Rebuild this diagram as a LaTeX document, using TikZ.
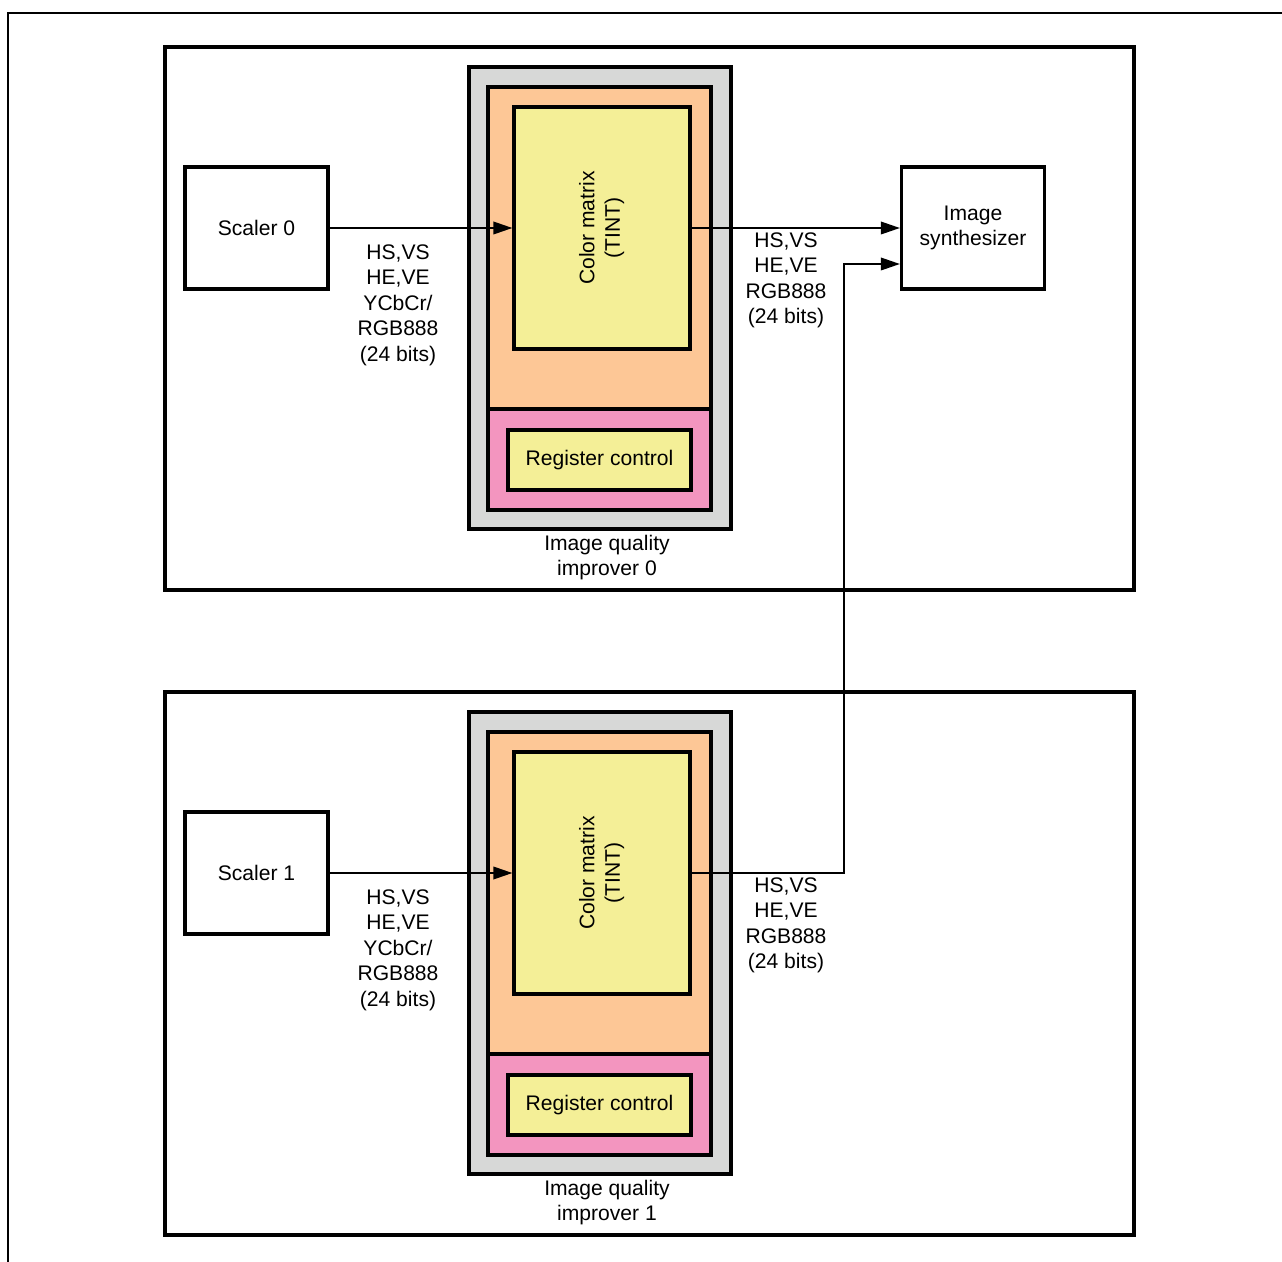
\documentclass[tikz,border=0pt]{standalone}
\usepackage{fontspec}
\setmainfont{Liberation Sans}
\usepackage{xcolor}
\usetikzlibrary{arrows.meta,positioning,calc}
\definecolor{iqgray}{HTML}{D7D8D7}
\definecolor{iqorange}{HTML}{FDC796}
\definecolor{iqpink}{HTML}{F395BF}
\definecolor{iqyellow}{HTML}{F4EF97}

\begin{document}
\begin{tikzpicture}[
  box/.style={draw,line width=1.8pt,inner sep=0pt,align=center,
              font=\fontsize{12}{14.5}\selectfont},
  blk/.style={box,minimum width=2.86cm,minimum height=2.44cm},
  area/.style={draw,line width=1.8pt,minimum width=19.38cm,minimum height=10.86cm},
  iq/.style={box,fill=iqgray,minimum width=5.24cm,minimum height=9.24cm},
  core/.style={box,fill=iqorange,minimum width=4.46cm,minimum height=6.44cm},
  regarea/.style={box,fill=iqpink,minimum width=4.46cm,minimum height=2.02cm},
  matbox/.style={box,fill=iqyellow,minimum width=3.52cm,minimum height=4.84cm},
  reg/.style={box,fill=iqyellow,minimum width=3.66cm,minimum height=1.2cm},
  lbl/.style={align=center,inner sep=0pt,font=\fontsize{12}{14.5}\selectfont},
  arr/.style={-{Triangle[length=3.8mm,width=2.5mm]},line width=1.1pt}]
\useasboundingbox (0,0) rectangle (25.64,-25.24);
\draw[line width=1.3pt] (0.16,-25.24) -- (0.16,-0.26) -- (25.64,-0.26);
% improver 0
\node[area] (top) at (12.99,-6.37) {};
\node[iq] (iq0) at (12.0,-5.96) {};
\node[core] (core0) at (11.99,-4.96) {};
\node[regarea] (ra0) at (11.99,-9.19) {};
\node[matbox] (mat0) at (12.04,-4.56) {\rotatebox{90}{\begin{tabular}{@{}c@{}}Color matrix\\(TINT)\end{tabular}}};
\node[reg] (reg0) at (11.99,-9.2) {Register control};
\node[lbl] (iqname0) at (12.14,-11.15) {Image quality\\improver 0};
\node[blk] (sc0) at (5.13,-4.56) {Scaler 0};
\node[blk] (syn) at (19.46,-4.56) {Image\\synthesizer};
\node[lbl] (in0) at (7.96,-6.1) {HS,VS\\HE,VE\\YCbCr/\\RGB888\\(24 bits)};
\node[lbl] (out0) at (15.72,-5.61) {HS,VS\\HE,VE\\RGB888\\(24 bits)};
\coordinate (synin) at ($(syn.west)+(0,-0.72)$);
% improver 1
\node[area] (bot) at (12.99,-19.27) {};
\node[iq] (iq1) at (12.0,-18.86) {};
\node[core] (core1) at (11.99,-17.86) {};
\node[regarea] (ra1) at (11.99,-22.09) {};
\node[matbox] (mat1) at (12.04,-17.46) {\rotatebox{90}{\begin{tabular}{@{}c@{}}Color matrix\\(TINT)\end{tabular}}};
\node[reg] (reg1) at (11.99,-22.1) {Register control};
\node[lbl] (iqname1) at (12.14,-24.05) {Image quality\\improver 1};
\node[blk] (sc1) at (5.13,-17.46) {Scaler 1};
\node[lbl] (in1) at (7.96,-19.0) {HS,VS\\HE,VE\\YCbCr/\\RGB888\\(24 bits)};
\node[lbl] (out1) at (15.72,-18.51) {HS,VS\\HE,VE\\RGB888\\(24 bits)};
\draw[arr] (sc0) -- (mat0);
\draw[arr] (mat0) -- (syn);
\draw[arr] (sc1) -- (mat1);
\draw[arr] (mat1.east) -- ++(3.04,0) |- (synin);
\end{tikzpicture}
\end{document}
